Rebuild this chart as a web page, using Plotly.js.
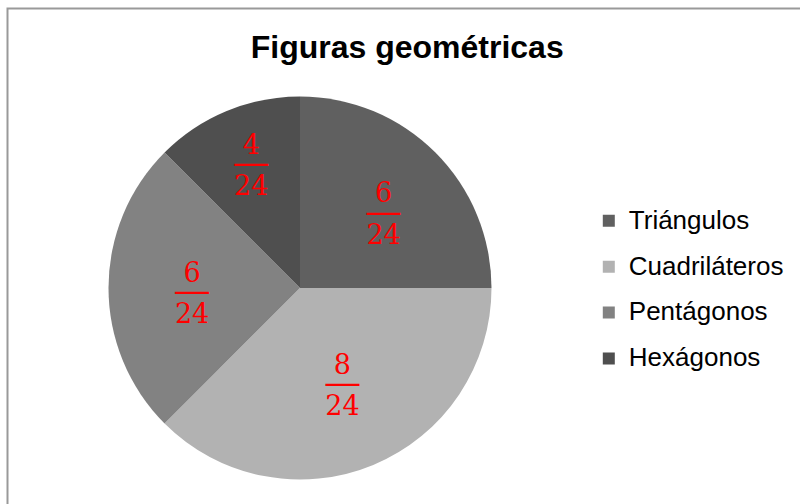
<!DOCTYPE html>
<html>
<head>
<meta charset="utf-8">
<script src="https://cdn.plot.ly/plotly-3.0.1.min.js"></script>
<style>
  html, body { margin: 0; padding: 0; background: #fff; }
  #chart { width: 800px; height: 504px; }
</style>
</head>
<body>
<div id="chart"></div>
<script>
// Data
const figuras = ['Triángulos', 'Cuadriláteros', 'Pentágonos', 'Hexágonos'];
// slice sizes as drawn (in 24ths of the circle)
const sectores = [6, 9, 6, 3];
// fractions written on the slices
const numeradores = [6, 8, 6, 4];
const denominador = 24;
const colores = ['#606060', '#b2b2b2', '#828282', '#4f4f4f'];

// fraction label: spacer line, numerator, bar, denominator
// (the leading nbsp's nudge the fraction a little right and down)
const fraccion =
  '<span style="font-size:15px">&nbsp;</span><br>' +
  '<span style="font-size:27px">&nbsp;%{customdata[0]}</span><br>' +
  '<span style="font-size:27px">&nbsp;</span><span style="font-size:34px">―</span><br>' +
  '<span style="font-size:27px">&nbsp;%{customdata[1]}</span>';

function renderPie() {
  const data = [
    {
      type: 'pie',
      // smaller visible legend text inside a taller legend row
      labels: figuras.map(f => '<span style="font-size:26px;baseline-shift:5px">' + f + '</span>'),
      values: sectores,
      customdata: numeradores.map(n => [n, denominador]),
      sort: false,
      direction: 'clockwise',
      rotation: 0,
      marker: { colors: colores, line: { width: 0 } },
      texttemplate: fraccion,
      textposition: 'inside',
      insidetextorientation: 'horizontal',
      textfont: { family: 'DejaVu Serif', size: 16, color: '#ff0000' },
      hoverinfo: 'none',
      domain: { x: [108.5 / 800, 491.5 / 800], y: [1 - 479.5 / 504, 1 - 96.5 / 504] },
    },
  ];

  const layout = {
    width: 800,
    height: 504,
    margin: { l: 0, r: 0, t: 0, b: 0, autoexpand: false },
    paper_bgcolor: '#ffffff',
    title: {
      text: '<b>Figuras geométricas</b>',
      font: { family: 'Liberation Sans, Arial, sans-serif', size: 32, color: '#000' },
      xref: 'container',
      yref: 'container',
      x: 0.509,
      xanchor: 'center',
      y: 0.908,
      yanchor: 'middle',
    },
    showlegend: true,
    legend: {
      xref: 'paper',
      yref: 'paper',
      x: 0.736,
      xanchor: 'left',
      y: 0.425,
      yanchor: 'middle',
      font: { family: 'Liberation Sans, Arial, sans-serif', size: 33, color: '#000' },
      bgcolor: 'rgba(0,0,0,0)',
    },
    shapes: [
      {
        type: 'rect',
        xref: 'paper',
        yref: 'paper',
        x0: 7.5 / 800,
        x1: 1.05,
        y0: -0.05,
        y1: 1 - 8.5 / 504,
        line: { color: '#999999', width: 2 },
      },
    ],
  };

  Plotly.newPlot('chart', data, layout, { displayModeBar: false, staticPlot: true });
}

renderPie();
</script>
</body>
</html>
